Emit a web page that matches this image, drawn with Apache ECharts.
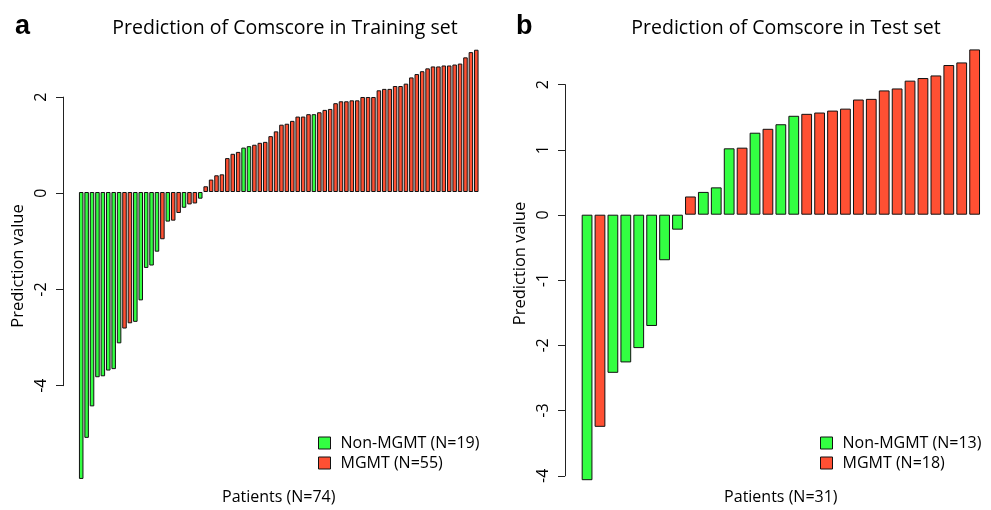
<!DOCTYPE html>
<html>
<head>
<meta charset="utf-8">
<script src="https://cdn.jsdelivr.net/npm/echarts@6/dist/echarts.min.js"></script>
<style>
  html, body { margin: 0; padding: 0; background: #fff; }
  #chart { width: 991px; height: 510px; }
</style>
</head>
<body>
<div id="chart"></div>
<script>
// prediction values, sorted
const trainValues = [
  -6.01, -5.15, -4.49, -3.88, -3.86, -3.74, -3.71, -3.17, -2.86, -2.75,
  -2.72, -2.27, -1.59, -1.54, -1.25, -0.99, -0.62, -0.60, -0.44, -0.33,
  -0.26, -0.24, -0.14, 0.12, 0.26, 0.35, 0.37, 0.71, 0.80, 0.84,
  0.93, 0.96, 0.99, 1.03, 1.05, 1.17, 1.27, 1.41, 1.43, 1.49,
  1.58, 1.58, 1.63, 1.63, 1.67, 1.72, 1.74, 1.86, 1.90, 1.90,
  1.92, 1.92, 1.99, 1.99, 1.99, 2.13, 2.16, 2.16, 2.22, 2.22,
  2.27, 2.40, 2.47, 2.53, 2.59, 2.63, 2.63, 2.65, 2.65, 2.67,
  2.69, 2.82, 2.93, 2.98
]
// N = Non-MGMT, M = MGMT
const trainGroups = [
  'N', 'N', 'N', 'N', 'N', 'N', 'N', 'N', 'M', 'M',
  'N', 'N', 'N', 'N', 'N', 'M', 'N', 'M', 'M', 'N',
  'M', 'M', 'N', 'M', 'M', 'M', 'M', 'M', 'M', 'M',
  'N', 'N', 'M', 'M', 'M', 'M', 'M', 'M', 'M', 'M',
  'M', 'M', 'M', 'N', 'M', 'M', 'M', 'M', 'M', 'M',
  'M', 'M', 'M', 'M', 'M', 'M', 'M', 'M', 'M', 'M',
  'M', 'M', 'M', 'M', 'M', 'M', 'M', 'M', 'M', 'M',
  'M', 'M', 'M', 'M'
]
const testValues = [
  -4.08, -3.26, -2.43, -2.27, -2.05, -1.71, -0.70, -0.23, 0.28, 0.35,
  0.42, 1.02, 1.03, 1.26, 1.32, 1.39, 1.52, 1.55, 1.57, 1.60,
  1.63, 1.77, 1.78, 1.91, 1.94, 2.06, 2.10, 2.14, 2.30, 2.34,
  2.54
]
const testGroups = [
  'N', 'M', 'N', 'N', 'N', 'N', 'N', 'N', 'M', 'N',
  'N', 'N', 'M', 'N', 'M', 'N', 'N', 'M', 'M', 'M',
  'M', 'M', 'M', 'M', 'M', 'M', 'M', 'M', 'M', 'M',
  'M'
]
const trainLegend = ['Non-MGMT (N=19)', 'MGMT (N=55)']
const testLegend = ['Non-MGMT (N=13)', 'MGMT (N=18)']
const trainTicks = [-4, -2, 0, 2]
const testTicks = [-4, -3, -2, -1, 0, 1, 2]

const GREEN = '#33ff42'
const RED = '#ff5033'
const EDGE = '#111'
const FONT = 'Open Sans'

function pick (values, groups, g) {
  return values.map((v, i) => (groups[i] === g ? v : '-'))
}

function barSeries (name, data, color, idx) {
  return {
    name,
    type: 'bar',
    xAxisIndex: idx,
    yAxisIndex: idx,
    data,
    barGap: '-100%',
    barCategoryGap: '16.7%',
    itemStyle: { color, borderColor: EDGE, borderWidth: 1 },
    animation: false
  }
}

function cats (n) {
  return Array.from({ length: n }, (_, i) => String(i + 1))
}

const chart = echarts.init(document.getElementById('chart'))

const hiddenX = (grid, n, name) => ({
  type: 'category',
  gridIndex: grid,
  data: cats(n),
  name,
  nameLocation: 'middle',
  nameGap: 1,
  nameTextStyle: { fontFamily: FONT, fontSize: 16, color: '#000' },
  axisLine: { show: false },
  axisTick: { show: false },
  axisLabel: { show: false },
  splitLine: { show: false }
})

const barY = (grid, min, max) => ({
  type: 'value',
  gridIndex: grid,
  min,
  max,
  name: 'Prediction value',
  nameLocation: 'middle',
  nameGap: 52,
  nameTextStyle: { fontFamily: FONT, fontSize: 16.5, color: '#000' },
  axisLine: { show: false },
  axisTick: { show: false },
  axisLabel: { show: false },
  splitLine: { show: false }
})

const tickY = (grid, ticks) => ({
  type: 'value',
  gridIndex: grid,
  min: ticks[0],
  max: ticks[ticks.length - 1],
  interval: ticks[1] - ticks[0],
  axisLine: { show: true, lineStyle: { color: '#222', width: 1 } },
  axisTick: { show: true, length: 7, lineStyle: { color: '#222', width: 1 } },
  axisLabel: { rotate: 90, margin: 14, fontFamily: FONT, fontSize: 16, color: '#000' },
  splitLine: { show: false }
})

const emptyX = grid => ({ type: 'value', gridIndex: grid, show: false })

const legendBase = {
  orient: 'vertical',
  top: 430,
  icon: 'rect',
  itemWidth: 12,
  itemHeight: 12,
  itemGap: 4,
  textStyle: { fontFamily: FONT, fontSize: 16, color: '#000', padding: [0, 0, 0, 5] },
  itemStyle: { borderColor: EDGE, borderWidth: 1 }
}

const option = {
  backgroundColor: '#fff',
  animation: false,
  title: [
    { text: 'a', left: 10, top: 8, textStyle: { fontFamily: 'Liberation Sans', fontWeight: 'bold', fontSize: 27, color: '#000' } },
    { text: 'b', left: 511, top: 8, textStyle: { fontFamily: 'Liberation Sans', fontWeight: 'bold', fontSize: 27, color: '#000' } },
    { text: 'Prediction of Comscore in Training set', left: 280, top: 13, textAlign: 'center', textStyle: { fontFamily: FONT, fontWeight: 'normal', fontSize: 19.5, color: '#000' } },
    { text: 'Prediction of Comscore in Test set', left: 781, top: 13, textAlign: 'center', textStyle: { fontFamily: FONT, fontWeight: 'normal', fontSize: 19.5, color: '#000' } }
  ],
  legend: [
    Object.assign({}, legendBase, { data: trainLegend, left: 313 }),
    Object.assign({}, legendBase, { data: testLegend, left: 815 })
  ],
  grid: [
    { left: 78.5, top: 44, width: 400.5, height: 447.3 },
    { left: 63, top: 97.1, width: 10, height: 288.6 },
    { left: 580.6, top: 39, width: 400.5, height: 449.9 },
    { left: 565, top: 84.6, width: 10, height: 391.2 }
  ],
  xAxis: [
    hiddenX(0, trainValues.length, 'Patients (N=74)'),
    emptyX(1),
    hiddenX(2, testValues.length, 'Patients (N=31)'),
    emptyX(3)
  ],
  yAxis: [
    barY(0, -6.2, 3.1),
    tickY(1, trainTicks),
    barY(2, -4.2, 2.7),
    tickY(3, testTicks)
  ],
  series: [
    barSeries(trainLegend[0], pick(trainValues, trainGroups, 'N'), GREEN, 0),
    barSeries(trainLegend[1], pick(trainValues, trainGroups, 'M'), RED, 0),
    barSeries(testLegend[0], pick(testValues, testGroups, 'N'), GREEN, 2),
    barSeries(testLegend[1], pick(testValues, testGroups, 'M'), RED, 2)
  ]
}

chart.setOption(option)
window.onresize = () => chart.resize()
</script>
</body>
</html>
